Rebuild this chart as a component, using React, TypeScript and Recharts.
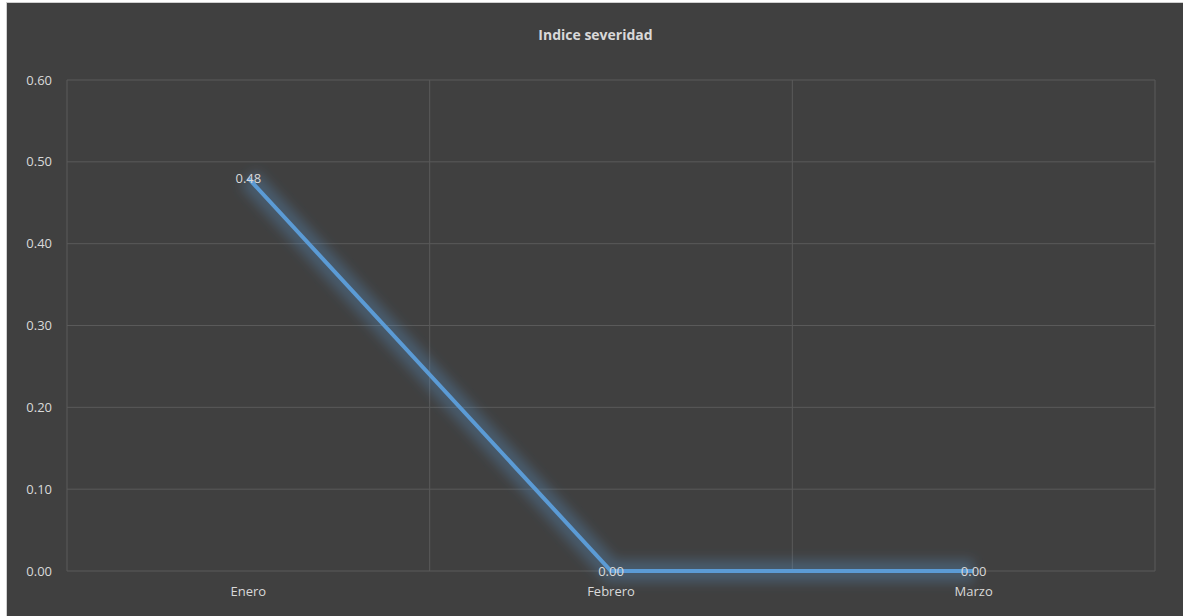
import React from "react";
import { LineChart, Line, XAxis, YAxis, CartesianGrid, LabelList } from "recharts";

const categories = ["Enero", "Febrero", "Marzo"];
const severityValues = [0.48, 0.0, 0.0];
const yTicks = [0, 0.1, 0.2, 0.3, 0.4, 0.5, 0.6];

const data = categories.map((month, i) => ({ month, value: severityValues[i] }));

const TEXT = "#d9d9d9";
const GRID = "#5a5a5a";
const BLUE = "#5b9bd5";
const FONT = "'Open Sans', 'Noto Sans', sans-serif";

// vertical gridlines at category boundaries (between bands)
const boundaryGenerator = ({ offset }: any) => {
  const n = categories.length;
  const out: number[] = [];
  for (let i = 0; i <= n; i++) out.push(offset.left + (offset.width * i) / n);
  return out;
};

export default function App() {
  return (
    <div style={{ position: "absolute", left: 0, top: 0, width: 1183, height: 616, background: "#fff", overflow: "hidden" }}>
      <div
        style={{
          position: "absolute",
          left: 6,
          top: 2,
          width: 1177,
          height: 614,
          background: "#404040",
          borderLeft: "1px solid #d0d0d0",
          borderTop: "1px solid #d0d0d0",
        }}
      />
      <div
        style={{
          position: "absolute",
          left: 0,
          width: 1183,
          top: 25,
          textAlign: "center",
          fontFamily: FONT,
          fontWeight: 700,
          fontSize: 14,
          color: TEXT,
          lineHeight: "20px",
          paddingLeft: 8,
          boxSizing: "border-box",
        }}
      >
        Indice severidad
      </div>
      <div style={{ position: "absolute", left: 0, top: 0 }}>
        <LineChart
          width={1183}
          height={616}
          data={data}
          margin={{ top: 80, right: 28, bottom: 0, left: 0 }}
          style={{ fontFamily: FONT }}
        >
          <defs>
            <filter id="glow" x="-30%" y="-30%" width="160%" height="160%">
              <feGaussianBlur stdDeviation="6" />
            </filter>
          </defs>
          <CartesianGrid
            stroke={GRID}
            strokeWidth={1}
            verticalCoordinatesGenerator={boundaryGenerator}
          />
          <XAxis
            dataKey="month"
            scale="band"
            height={45}
            axisLine={false}
            tickLine={false}
            tickSize={0}
            tickMargin={16}
            tick={{ fill: TEXT, fontSize: 13, fontFamily: FONT }}
          />
          <YAxis
            width={67}
            domain={[0, 0.6]}
            ticks={yTicks}
            axisLine={false}
            tickLine={false}
            tickSize={0}
            tickMargin={15}
            tickFormatter={(v: number) => v.toFixed(2)}
            tick={{ fill: TEXT, fontSize: 13, fontFamily: FONT }}
          />
          <Line
            dataKey="value"
            stroke={BLUE}
            strokeWidth={22}
            strokeOpacity={0.3}
            dot={false}
            activeDot={false}
            isAnimationActive={false}
            filter="url(#glow)"
            legendType="none"
          />
          <Line
            dataKey="value"
            stroke={BLUE}
            strokeWidth={4}
            dot={false}
            activeDot={false}
            isAnimationActive={false}
          >
            <LabelList
              dataKey="value"
              position="center"
              fill={TEXT}
              fontSize={13}
              fontFamily={FONT}
              formatter={(v: number) => Number(v).toFixed(2)}
            />
          </Line>
        </LineChart>
      </div>
    </div>
  );
}
